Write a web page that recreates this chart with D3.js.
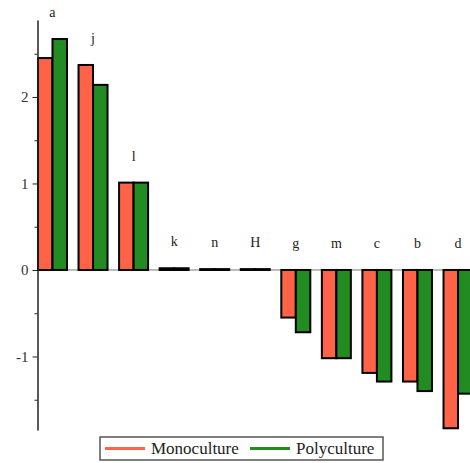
<!DOCTYPE html>
<html>
<head>
<meta charset="utf-8">
<script src="https://cdn.jsdelivr.net/npm/d3@7"></script>
<style>
  body { margin: 0; background: #fff; }
  svg { display: block; font-family: "Liberation Serif", "DejaVu Serif", serif; }
</style>
</head>
<body>
<svg id="chart" width="470" height="463"></svg>
<script>
// data
const categories = ["a", "j", "l", "k", "n", "H", "g", "m", "c", "b", "d"];
const series = ["Monoculture", "Polyculture"];
const mono = [2.45, 2.37, 1.01, 0.02, 0.01, 0.01, -0.55, -1.02, -1.19, -1.29, -1.83];
const poly = [2.67, 2.14, 1.01, 0.02, 0.01, 0.01, -0.72, -1.02, -1.29, -1.40, -1.43];
const majorTicks = [-1, 0, 1, 2];
const minorTicks = [-1.5, -0.5, 0.5, 1.5, 2.5];

const svg = d3.select("#chart");
const colors = { Monoculture: "#ff6347", Polyculture: "#228b22" };

const rows = categories.map((c, i) => ({ cat: c, Monoculture: mono[i], Polyculture: poly[i] }));

// Scales
const x0 = d3.scaleBand()
    .domain(categories)
    .range([32.2, 478.3])
    .paddingInner(0.285)
    .paddingOuter(0.1425);

const x1 = d3.scaleBand()
    .domain(series)
    .range([0, x0.bandwidth()]);

const y = d3.scaleLinear()
    .domain([-1.85, 2.89])
    .range([430, 20]);

const axisX = 37.5;

// zero line
svg.append("line")
    .attr("x1", axisX).attr("x2", 470)
    .attr("y1", y(0)).attr("y2", y(0))
    .attr("stroke", "#777").attr("stroke-width", 1);

// Bars
svg.append("g")
    .selectAll("g")
    .data(rows)
    .join("g")
    .attr("transform", d => `translate(${x0(d.cat)},0)`)
    .selectAll("rect")
    .data(d => series.map(k => ({ key: k, value: d[k] })))
    .join("rect")
    .attr("x", d => x1(d.key))
    .attr("y", d => y(Math.max(0, d.value)))
    .attr("width", x1.bandwidth())
    .attr("height", d => Math.abs(y(d.value) - y(0)))
    .attr("fill", d => colors[d.key])
    .attr("stroke", "#000")
    .attr("stroke-width", 2);

// category labels
svg.append("g")
    .selectAll("text")
    .data(rows)
    .join("text")
    .attr("x", d => x0(d.cat) + x0.bandwidth() / 2)
    .attr("y", d => y(Math.max(0, d.Monoculture, d.Polyculture)) - 22)
    .attr("text-anchor", "middle")
    .style("font-size", "14px")
    .style("fill", "#222")
    .text(d => d.cat);

// Axes
const axisMinor = svg.append("g")
    .attr("transform", `translate(${axisX},0)`)
    .call(d3.axisLeft(y).tickValues(minorTicks).tickSize(3).tickSizeOuter(0).tickFormat(""));
axisMinor.select(".domain").attr("stroke", "#222");

const axisMajor = svg.append("g")
    .attr("transform", `translate(${axisX},0)`)
    .call(d3.axisLeft(y).tickValues(majorTicks).tickSize(5).tickSizeOuter(0).tickPadding(4)
        .tickFormat(d => d < 0 ? "-" + Math.abs(d) : d));
axisMajor.select(".domain").attr("stroke", "#222");
axisMajor.selectAll("line").attr("stroke", "#222");
axisMinor.selectAll("line").attr("stroke", "#222");
axisMajor.selectAll("text")
    .style("font-family", "'Liberation Serif', serif")
    .style("font-size", "15px")
    .style("fill", "#333");

// Legend
const legend = svg.append("g").attr("transform", "translate(100,437)");
legend.append("rect")
    .attr("width", 283).attr("height", 23)
    .attr("fill", "#fff").attr("stroke", "#555").attr("stroke-width", 1.5);

const legendX = [5, 150];
series.forEach((key, i) => {
    const g = legend.append("g").attr("transform", `translate(${legendX[i]},0)`);
    g.append("line")
        .attr("x1", 0).attr("x2", 40)
        .attr("y1", 11.5).attr("y2", 11.5)
        .attr("stroke", colors[key]).attr("stroke-width", 3);
    g.append("text")
        .attr("x", 46).attr("y", 17)
        .style("font-size", "17px")
        .style("fill", "#222")
        .text(key);
});
</script>
</body>
</html>
